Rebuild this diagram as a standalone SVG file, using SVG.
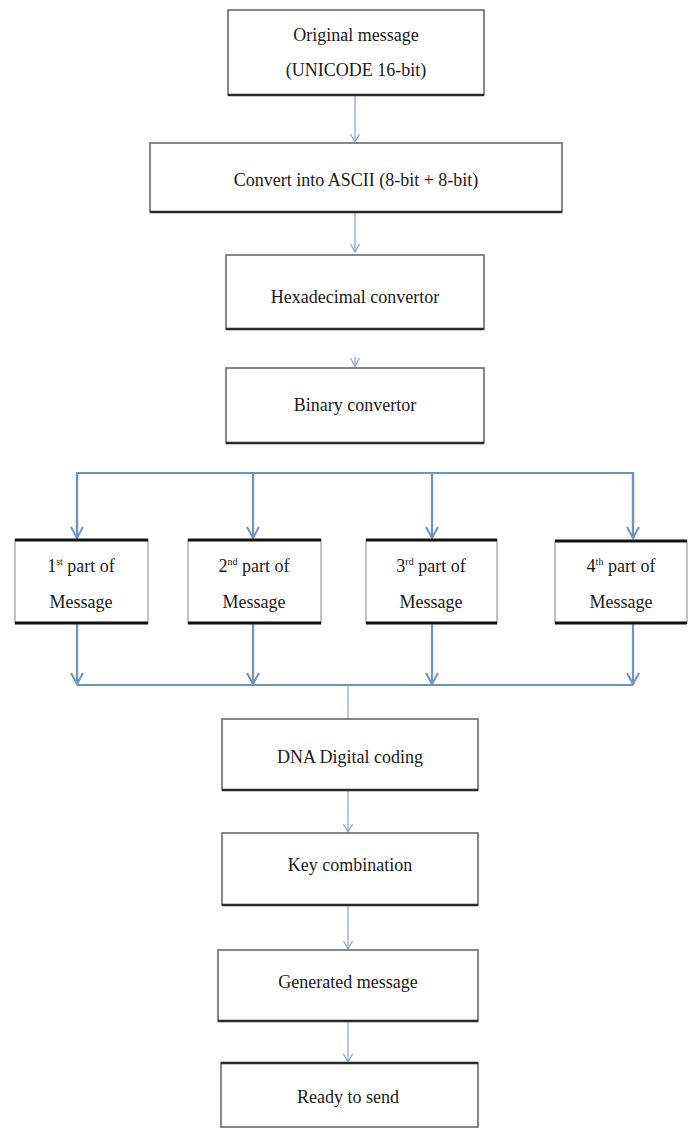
<svg xmlns="http://www.w3.org/2000/svg" width="691" height="1131" viewBox="0 0 691 1131">
<style>
.box{fill:#fff;stroke:#6a6a6a;stroke-width:1.6}
.shadow{stroke:#2a2a2a;stroke-width:2.4;fill:none}
.pbox{fill:#fff;stroke:#9a9a9a;stroke-width:1.2}
.pedge{stroke:#111;stroke-width:3;fill:none}
.t{font-family:"Liberation Serif","Times New Roman",serif;font-size:18px;fill:#1a1a1a;text-anchor:middle}
.thin{stroke:#8aa3c6;stroke-width:1.2;fill:none}
.thick{stroke:#6f92c2;stroke-width:2.2;fill:none}
</style>
<defs>
<marker id="ah" markerUnits="userSpaceOnUse" markerWidth="12" markerHeight="12" viewBox="0 0 12 12" refX="10" refY="6" orient="auto">
<path d="M2,1.5 L10,6 L2,10.5" fill="none" stroke="#8aa3c6" stroke-width="1.2"/>
</marker>
<marker id="ahb" markerUnits="userSpaceOnUse" markerWidth="16" markerHeight="16" viewBox="0 0 16 16" refX="14" refY="8" orient="auto">
<path d="M3,2 L14,8 L3,14" fill="none" stroke="#6f92c2" stroke-width="2"/>
</marker>
</defs>
<rect width="691" height="1131" fill="#fff"/>

<g id="connectors">
<line class="thin" x1="355" y1="96" x2="355" y2="142" marker-end="url(#ah)"/>
<line class="thin" x1="355" y1="213" x2="355" y2="252" marker-end="url(#ah)"/>
<line class="thin" x1="355" y1="357" x2="355" y2="366" marker-end="url(#ah)"/>
<polyline class="thick" points="77,538 77,473 633,473 633,538"/>
<line class="thick" x1="77" y1="473" x2="77" y2="538" marker-end="url(#ahb)"/>
<line class="thick" x1="253" y1="473" x2="253" y2="538" marker-end="url(#ahb)"/>
<line class="thick" x1="432" y1="473" x2="432" y2="538" marker-end="url(#ahb)"/>
<line class="thick" x1="633" y1="473" x2="633" y2="538" marker-end="url(#ahb)"/>
<line class="thick" x1="77" y1="624" x2="77" y2="684" marker-end="url(#ahb)"/>
<line class="thick" x1="253" y1="624" x2="253" y2="684" marker-end="url(#ahb)"/>
<line class="thick" x1="432" y1="624" x2="432" y2="684" marker-end="url(#ahb)"/>
<line class="thick" x1="633" y1="624" x2="633" y2="684" marker-end="url(#ahb)"/>
<line class="thick" x1="77" y1="685" x2="633" y2="685"/>
<line class="thin" x1="348" y1="686" x2="348" y2="719"/>
<line class="thin" x1="348" y1="791" x2="348" y2="832" marker-end="url(#ah)"/>
<line class="thin" x1="348" y1="906" x2="348" y2="949" marker-end="url(#ah)"/>
<line class="thin" x1="348" y1="1022" x2="348" y2="1062" marker-end="url(#ah)"/>
</g>

<g id="n-original">
<rect class="box" x="228" y="10" width="256" height="85"/>
<line class="shadow" x1="228" y1="95" x2="484" y2="95"/>
<text class="t" x="356" y="41">Original message</text>
<text class="t" x="356" y="76">(UNICODE 16-bit)</text>
</g>

<g id="n-ascii">
<rect class="box" x="150" y="143" width="412" height="69"/>
<line class="shadow" x1="150" y1="212" x2="562" y2="212"/>
<text class="t" x="356" y="186">Convert into ASCII (8-bit + 8-bit)</text>
</g>

<g id="n-hex">
<rect class="box" x="226" y="255" width="258" height="74"/>
<line class="shadow" x1="226" y1="329" x2="484" y2="329"/>
<text class="t" x="355" y="303">Hexadecimal convertor</text>
</g>

<g id="n-binary">
<rect class="box" x="226" y="368" width="258" height="75"/>
<line class="shadow" x1="226" y1="443" x2="484" y2="443"/>
<text class="t" x="355" y="411">Binary convertor</text>
</g>

<g id="n-part1">
<rect class="pbox" x="15" y="540" width="133" height="83"/>
<line class="pedge" x1="15" y1="540" x2="148" y2="540"/>
<line class="pedge" x1="15" y1="623" x2="148" y2="623"/>
<text class="t" x="81" y="572">1<tspan font-size="10" dy="-7">st</tspan><tspan dy="7"> part of</tspan></text>
<text class="t" x="81" y="608">Message</text>
</g>

<g id="n-part2">
<rect class="pbox" x="188" y="540" width="133" height="83"/>
<line class="pedge" x1="188" y1="540" x2="321" y2="540"/>
<line class="pedge" x1="188" y1="623" x2="321" y2="623"/>
<text class="t" x="254" y="572">2<tspan font-size="10" dy="-7">nd</tspan><tspan dy="7"> part of</tspan></text>
<text class="t" x="254" y="608">Message</text>
</g>

<g id="n-part3">
<rect class="pbox" x="366" y="540" width="131" height="83"/>
<line class="pedge" x1="366" y1="540" x2="497" y2="540"/>
<line class="pedge" x1="366" y1="623" x2="497" y2="623"/>
<text class="t" x="431" y="572">3<tspan font-size="10" dy="-7">rd</tspan><tspan dy="7"> part of</tspan></text>
<text class="t" x="431" y="608">Message</text>
</g>

<g id="n-part4">
<rect class="pbox" x="555" y="541" width="132" height="82"/>
<line class="pedge" x1="555" y1="541" x2="687" y2="541"/>
<line class="pedge" x1="555" y1="623" x2="687" y2="623"/>
<text class="t" x="621" y="572">4<tspan font-size="10" dy="-7">th</tspan><tspan dy="7"> part of</tspan></text>
<text class="t" x="621" y="608">Message</text>
</g>

<g id="n-dna">
<rect class="box" x="222" y="719" width="256" height="71"/>
<line class="shadow" x1="222" y1="790" x2="478" y2="790"/>
<text class="t" x="350" y="763">DNA Digital coding</text>
</g>

<g id="n-key">
<rect class="box" x="222" y="833" width="256" height="72"/>
<line class="shadow" x1="222" y1="905" x2="478" y2="905"/>
<text class="t" x="350" y="871">Key combination</text>
</g>

<g id="n-generated">
<rect class="box" x="218" y="950" width="260" height="71"/>
<line class="shadow" x1="218" y1="1021" x2="478" y2="1021"/>
<text class="t" x="348" y="988">Generated message</text>
</g>

<g id="n-ready">
<rect class="box" x="221" y="1063" width="257" height="64"/>
<line class="shadow" x1="221" y1="1063" x2="478" y2="1063"/>
<text class="t" x="348" y="1103">Ready to send</text>
</g>
</svg>
